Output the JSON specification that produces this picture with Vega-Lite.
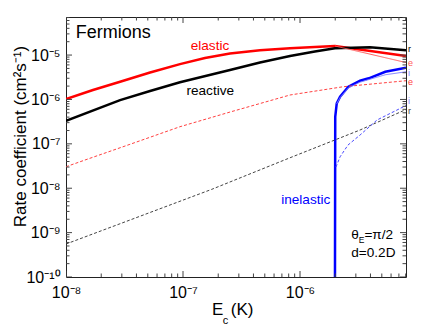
{
  "$schema": "https://vega.github.io/schema/vega-lite/v6.json",
  "width": 340,
  "height": 260,
  "autosize": {"type": "none"},
  "padding": {"left": 66, "top": 17, "right": 17, "bottom": 50},
  "background": "white",
  "config": {
    "view": {"stroke": "#222222", "strokeWidth": 1},
    "font": "Liberation Sans",
    "text": {"font": "Liberation Sans"},
    "tick": {"thickness": 1, "color": "#444444", "opacity": 1},
    "axis": {
      "grid": false,
      "domain": false,
      "ticks": false,
      "labelFont": "Liberation Sans",
      "labelFontSize": 16,
      "labelColor": "#000000",
      "labelOverlap": false,
      "labelFlush": false,
      "labelBound": false,
      "titleFont": "Liberation Sans",
      "titleColor": "#000000",
      "titleFontWeight": "normal"
    }
  },
  "datasets": {
    "lines": [
      {"s": "elastic", "x": 1e-8, "y": 1.02e-6},
      {"s": "elastic", "x": 1.70e-8, "y": 1.63e-6},
      {"s": "elastic", "x": 2.90e-8, "y": 2.51e-6},
      {"s": "elastic", "x": 5.23e-8, "y": 4.04e-6},
      {"s": "elastic", "x": 9.42e-8, "y": 6.26e-6},
      {"s": "elastic", "x": 1.54e-7, "y": 8.55e-6},
      {"s": "elastic", "x": 2.52e-7, "y": 1.08e-5},
      {"s": "elastic", "x": 4.55e-7, "y": 1.28e-5},
      {"s": "elastic", "x": 8.22e-7, "y": 1.42e-5},
      {"s": "elastic", "x": 1.34e-6, "y": 1.51e-5},
      {"s": "elastic", "x": 1.99e-6, "y": 1.60e-5},
      {"s": "elastic", "x": 8.05e-6, "y": 9.5e-6},
      {"s": "reactive", "x": 1e-8, "y": 3.31e-7},
      {"s": "reactive", "x": 2.90e-8, "y": 9.68e-7},
      {"s": "reactive", "x": 5.23e-8, "y": 1.55e-6},
      {"s": "reactive", "x": 9.42e-8, "y": 2.43e-6},
      {"s": "reactive", "x": 2.52e-7, "y": 4.59e-6},
      {"s": "reactive", "x": 4.55e-7, "y": 6.78e-6},
      {"s": "reactive", "x": 8.22e-7, "y": 9.48e-6},
      {"s": "reactive", "x": 1.34e-6, "y": 1.20e-5},
      {"s": "reactive", "x": 1.99e-6, "y": 1.42e-5},
      {"s": "reactive", "x": 3.96e-6, "y": 1.49e-5},
      {"s": "reactive", "x": 8.05e-6, "y": 1.28e-5},
      {"s": "elastic_thin", "x": 1.99e-6, "y": 1.60e-5},
      {"s": "elastic_thin", "x": 3.96e-6, "y": 1.05e-5},
      {"s": "elastic_thin", "x": 8.05e-6, "y": 6.78e-6},
      {"s": "elastic_dash", "x": 1e-8, "y": 3.05e-8},
      {"s": "elastic_dash", "x": 1.45e-8, "y": 4.31e-8},
      {"s": "elastic_dash", "x": 3.52e-8, "y": 9.75e-8},
      {"s": "elastic_dash", "x": 9.42e-8, "y": 2.43e-7},
      {"s": "elastic_dash", "x": 2.52e-7, "y": 5.2e-7},
      {"s": "elastic_dash", "x": 8.22e-7, "y": 1.26e-6},
      {"s": "elastic_dash", "x": 2.33e-6, "y": 1.93e-6},
      {"s": "elastic_dash", "x": 8.05e-6, "y": 2.64e-6},
      {"s": "reactive_dash", "x": 1e-8, "y": 5.53e-10},
      {"s": "reactive_dash", "x": 1.76e-7, "y": 9.44e-9},
      {"s": "reactive_dash", "x": 8.22e-7, "y": 4.86e-8},
      {"s": "reactive_dash", "x": 3.26e-6, "y": 2.05e-7},
      {"s": "reactive_dash", "x": 8.05e-6, "y": 5.93e-7},
      {"s": "inelastic", "x": 1.99e-6, "y": 1e-10},
      {"s": "inelastic", "x": 2.0e-6, "y": 4.07e-7},
      {"s": "inelastic", "x": 2.06e-6, "y": 8.17e-7},
      {"s": "inelastic", "x": 2.20e-6, "y": 1.15e-6},
      {"s": "inelastic", "x": 2.59e-6, "y": 1.93e-6},
      {"s": "inelastic", "x": 3.26e-6, "y": 2.64e-6},
      {"s": "inelastic", "x": 3.87e-6, "y": 2.99e-6},
      {"s": "inelastic", "x": 5.36e-6, "y": 4.2e-6},
      {"s": "inelastic", "x": 8.05e-6, "y": 5.17e-6},
      {"s": "inelastic_thin", "x": 2.06e-6, "y": 8.0e-7},
      {"s": "inelastic_thin", "x": 2.20e-6, "y": 1.1e-6},
      {"s": "inelastic_thin", "x": 2.59e-6, "y": 1.82e-6},
      {"s": "inelastic_thin", "x": 3.26e-6, "y": 2.45e-6},
      {"s": "inelastic_thin", "x": 3.87e-6, "y": 2.8e-6},
      {"s": "inelastic_thin", "x": 5.36e-6, "y": 3.6e-6},
      {"s": "inelastic_thin", "x": 8.05e-6, "y": 4.2e-6},
      {"s": "inelastic_dash", "x": 2.03e-6, "y": 3.0e-8},
      {"s": "inelastic_dash", "x": 2.2e-6, "y": 5.1e-8},
      {"s": "inelastic_dash", "x": 2.57e-6, "y": 9.4e-8},
      {"s": "inelastic_dash", "x": 3.26e-6, "y": 1.58e-7},
      {"s": "inelastic_dash", "x": 4.55e-6, "y": 3.44e-7},
      {"s": "inelastic_dash", "x": 8.05e-6, "y": 7.3e-7}
    ],
    "xticks": [
      {"v": 1e-8, "k": "major"}, {"v": 2e-8, "k": "minor"}, {"v": 3e-8, "k": "minor"}, {"v": 4e-8, "k": "minor"}, {"v": 5e-8, "k": "minor"}, {"v": 6e-8, "k": "minor"}, {"v": 7e-8, "k": "minor"}, {"v": 8e-8, "k": "minor"}, {"v": 9e-8, "k": "minor"},
      {"v": 1e-7, "k": "major"}, {"v": 2e-7, "k": "minor"}, {"v": 3e-7, "k": "minor"}, {"v": 4e-7, "k": "minor"}, {"v": 5e-7, "k": "minor"}, {"v": 6e-7, "k": "minor"}, {"v": 7e-7, "k": "minor"}, {"v": 8e-7, "k": "minor"}, {"v": 9e-7, "k": "minor"},
      {"v": 1e-6, "k": "major"}, {"v": 2e-6, "k": "minor"}, {"v": 3e-6, "k": "minor"}, {"v": 4e-6, "k": "minor"}, {"v": 5e-6, "k": "minor"}, {"v": 6e-6, "k": "minor"}, {"v": 7e-6, "k": "minor"}, {"v": 8e-6, "k": "minor"}
    ],
    "yticks": [
      {"v": 1e-10, "k": "major"}, {"v": 2e-10, "k": "minor"}, {"v": 3e-10, "k": "minor"}, {"v": 4e-10, "k": "minor"}, {"v": 5e-10, "k": "minor"}, {"v": 6e-10, "k": "minor"}, {"v": 7e-10, "k": "minor"}, {"v": 8e-10, "k": "minor"}, {"v": 9e-10, "k": "minor"},
      {"v": 1e-9, "k": "major"}, {"v": 2e-9, "k": "minor"}, {"v": 3e-9, "k": "minor"}, {"v": 4e-9, "k": "minor"}, {"v": 5e-9, "k": "minor"}, {"v": 6e-9, "k": "minor"}, {"v": 7e-9, "k": "minor"}, {"v": 8e-9, "k": "minor"}, {"v": 9e-9, "k": "minor"},
      {"v": 1e-8, "k": "major"}, {"v": 2e-8, "k": "minor"}, {"v": 3e-8, "k": "minor"}, {"v": 4e-8, "k": "minor"}, {"v": 5e-8, "k": "minor"}, {"v": 6e-8, "k": "minor"}, {"v": 7e-8, "k": "minor"}, {"v": 8e-8, "k": "minor"}, {"v": 9e-8, "k": "minor"},
      {"v": 1e-7, "k": "major"}, {"v": 2e-7, "k": "minor"}, {"v": 3e-7, "k": "minor"}, {"v": 4e-7, "k": "minor"}, {"v": 5e-7, "k": "minor"}, {"v": 6e-7, "k": "minor"}, {"v": 7e-7, "k": "minor"}, {"v": 8e-7, "k": "minor"}, {"v": 9e-7, "k": "minor"},
      {"v": 1e-6, "k": "major"}, {"v": 2e-6, "k": "minor"}, {"v": 3e-6, "k": "minor"}, {"v": 4e-6, "k": "minor"}, {"v": 5e-6, "k": "minor"}, {"v": 6e-6, "k": "minor"}, {"v": 7e-6, "k": "minor"}, {"v": 8e-6, "k": "minor"}, {"v": 9e-6, "k": "minor"},
      {"v": 1e-5, "k": "major"}, {"v": 2e-5, "k": "minor"}, {"v": 3e-5, "k": "minor"}, {"v": 4e-5, "k": "minor"}, {"v": 5e-5, "k": "minor"}, {"v": 6e-5, "k": "minor"}, {"v": 7e-5, "k": "minor"}
    ],
    "endlabels": [
      {"t": "r", "s": "reactive", "x": 8.05e-6, "y": 1.34e-5},
      {"t": "e", "s": "elastic_thin", "x": 8.05e-6, "y": 6.75e-6},
      {"t": "i", "s": "inelastic_thin", "x": 8.05e-6, "y": 4.0e-6},
      {"t": "e", "s": "elastic_dash", "x": 8.05e-6, "y": 2.5e-6},
      {"t": "i", "s": "inelastic_thin", "x": 8.05e-6, "y": 9.2e-7},
      {"t": "r", "s": "reactive_dash", "x": 8.05e-6, "y": 5.6e-7}
    ],
    "curvelabels": [
      {"t": "elastic", "s": "elastic", "x": 1.70e-7, "y": 1.30e-5},
      {"t": "reactive", "s": "reactive", "x": 1.71e-7, "y": 1.26e-6},
      {"t": "inelastic", "s": "inelastic", "x": 1.12e-6, "y": 4.33e-9}
    ],
    "notes": [
      {"t": "θ", "x": 2.74e-6, "y": 7.06e-10},
      {"t": "=π/2", "x": 3.55e-6, "y": 7.06e-10},
      {"t": "d=0.2D", "x": 2.74e-6, "y": 2.78e-10}
    ],
    "notesub": [
      {"t": "E", "x": 3.17e-6, "y": 5.83e-10}
    ],
    "heading": [
      {"t": "Fermions", "x": 1.21e-8, "y": 2.38e-5}
    ],
    "xtitle": [
      {"t": "E", "x": 1.77e-7, "y": 1e-10},
      {"t": "(K)", "x": 2.56e-7, "y": 1e-10}
    ],
    "xtitlesub": [
      {"t": "c", "x": 2.19e-7, "y": 1e-10}
    ]
  },
  "resolve": {"axis": {"x": "independent", "y": "independent"}},
  "layer": [
    {
      "data": {"name": "lines"},
      "transform": [{"filter": "datum.s == 'elastic' || datum.s == 'reactive' || datum.s == 'inelastic'"}],
      "mark": {"type": "line", "interpolate": "linear", "clip": true, "strokeWidth": 2.5},
      "encoding": {
        "x": {
          "field": "x", "type": "quantitative",
          "scale": {"type": "log", "domain": [1e-8, 8.05e-6], "nice": false},
          "axis": {
            "orient": "bottom", "title": null,
            "values": [1e-8, 1e-7, 1e-6],
            "labelPadding": 7,
            "labelExpr": "round(log(datum.value)/LN10)==-8 ? '10⁻⁸' : round(log(datum.value)/LN10)==-7 ? '10⁻⁷' : '10⁻⁶'"
          }
        },
        "y": {
          "field": "y", "type": "quantitative",
          "scale": {"type": "log", "domain": [1e-10, 7.2e-5], "nice": false},
          "axis": {
            "orient": "left",
            "values": [1e-10, 1e-9, 1e-8, 1e-7, 1e-6, 1e-5],
            "labelPadding": 6,
            "labelExpr": "round(log(datum.value)/LN10)==-10 ? '10⁻¹⁰' : round(log(datum.value)/LN10)==-9 ? '10⁻⁹' : round(log(datum.value)/LN10)==-8 ? '10⁻⁸' : round(log(datum.value)/LN10)==-7 ? '10⁻⁷' : round(log(datum.value)/LN10)==-6 ? '10⁻⁶' : '10⁻⁵'",
            "title": "Rate coefficient (cm²s⁻¹)",
            "titleFontSize": 17,
            "titleAngle": 270,
            "titleAlign": "center",
            "titleBaseline": "alphabetic",
            "titleX": -41,
            "titleY": 119
          }
        },
        "color": {
          "field": "s", "type": "nominal", "legend": null,
          "scale": {
            "domain": ["elastic", "reactive", "inelastic", "elastic_thin", "elastic_dash", "reactive_dash", "inelastic_thin", "inelastic_dash"],
            "range": ["#ff0000", "#000000", "#0000ff", "#ff5a5a", "#ff4040", "#444444", "#8080ff", "#4a4aff"]
          }
        }
      }
    },
    {
      "data": {"name": "lines"},
      "transform": [{"filter": "datum.s != 'elastic' && datum.s != 'reactive' && datum.s != 'inelastic'"}],
      "mark": {"type": "line", "interpolate": "linear", "clip": true, "strokeWidth": 1},
      "encoding": {
        "x": {"field": "x", "type": "quantitative", "axis": null},
        "y": {"field": "y", "type": "quantitative", "axis": null},
        "color": {"field": "s", "type": "nominal", "legend": null},
        "strokeDash": {
          "field": "s", "type": "nominal", "legend": null,
          "scale": {
            "domain": ["elastic_thin", "elastic_dash", "reactive_dash", "inelastic_thin", "inelastic_dash"],
            "range": [[1, 0], [3, 2], [3, 2], [1, 0], [3, 2]]
          }
        }
      }
    },
    {
      "data": {"name": "endlabels"},
      "mark": {"type": "text", "align": "left", "baseline": "middle", "dx": 2, "fontSize": 9},
      "encoding": {
        "x": {"field": "x", "type": "quantitative", "axis": null},
        "y": {"field": "y", "type": "quantitative", "axis": null},
        "text": {"field": "t"},
        "color": {"field": "s", "type": "nominal", "legend": null}
      }
    },
    {
      "data": {"name": "curvelabels"},
      "mark": {"type": "text", "align": "center", "baseline": "alphabetic", "fontSize": 13.6},
      "encoding": {
        "x": {"field": "x", "type": "quantitative", "axis": null},
        "y": {"field": "y", "type": "quantitative", "axis": null},
        "text": {"field": "t"},
        "color": {"field": "s", "type": "nominal", "legend": null}
      }
    },
    {
      "data": {"name": "notes"},
      "mark": {"type": "text", "align": "left", "baseline": "alphabetic", "fontSize": 13.6, "color": "#000000"},
      "encoding": {
        "x": {"field": "x", "type": "quantitative", "axis": null},
        "y": {"field": "y", "type": "quantitative", "axis": null},
        "text": {"field": "t"}
      }
    },
    {
      "data": {"name": "notesub"},
      "mark": {"type": "text", "align": "left", "baseline": "alphabetic", "fontSize": 8.5, "color": "#000000"},
      "encoding": {
        "x": {"field": "x", "type": "quantitative", "axis": null},
        "y": {"field": "y", "type": "quantitative", "axis": null},
        "text": {"field": "t"}
      }
    },
    {
      "data": {"name": "heading"},
      "mark": {"type": "text", "align": "left", "baseline": "alphabetic", "fontSize": 18, "color": "#000000"},
      "encoding": {
        "x": {"field": "x", "type": "quantitative", "axis": null},
        "y": {"field": "y", "type": "quantitative", "axis": null},
        "text": {"field": "t"}
      }
    },
    {
      "data": {"name": "xtitle"},
      "mark": {"type": "text", "align": "left", "baseline": "alphabetic", "fontSize": 17, "dy": 38, "color": "#000000"},
      "encoding": {
        "x": {"field": "x", "type": "quantitative", "axis": null},
        "y": {"field": "y", "type": "quantitative", "axis": null},
        "text": {"field": "t"}
      }
    },
    {
      "data": {"name": "xtitlesub"},
      "mark": {"type": "text", "align": "left", "baseline": "alphabetic", "fontSize": 11, "dy": 47, "color": "#000000"},
      "encoding": {
        "x": {"field": "x", "type": "quantitative", "axis": null},
        "y": {"field": "y", "type": "quantitative", "axis": null},
        "text": {"field": "t"}
      }
    },
    {
      "data": {"name": "xticks"},
      "transform": [{"filter": "datum.k == 'major'"}],
      "mark": {"type": "tick", "orient": "vertical", "size": 12, "clip": true},
      "encoding": {
        "x": {"field": "v", "type": "quantitative", "axis": null},
        "y": {"datum": 1e-10, "type": "quantitative", "axis": null}
      }
    },
    {
      "data": {"name": "xticks"},
      "transform": [{"filter": "datum.k == 'major'"}],
      "mark": {"type": "tick", "orient": "vertical", "size": 12, "clip": true},
      "encoding": {
        "x": {"field": "v", "type": "quantitative", "axis": null},
        "y": {"datum": 7.2e-5, "type": "quantitative", "axis": null}
      }
    },
    {
      "data": {"name": "xticks"},
      "transform": [{"filter": "datum.k == 'minor'"}],
      "mark": {"type": "tick", "orient": "vertical", "size": 7, "clip": true},
      "encoding": {
        "x": {"field": "v", "type": "quantitative", "axis": null},
        "y": {"datum": 1e-10, "type": "quantitative", "axis": null}
      }
    },
    {
      "data": {"name": "xticks"},
      "transform": [{"filter": "datum.k == 'minor'"}],
      "mark": {"type": "tick", "orient": "vertical", "size": 7, "clip": true},
      "encoding": {
        "x": {"field": "v", "type": "quantitative", "axis": null},
        "y": {"datum": 7.2e-5, "type": "quantitative", "axis": null}
      }
    },
    {
      "data": {"name": "yticks"},
      "transform": [{"filter": "datum.k == 'major'"}],
      "mark": {"type": "tick", "orient": "horizontal", "size": 12, "clip": true},
      "encoding": {
        "y": {"field": "v", "type": "quantitative", "axis": null},
        "x": {"datum": 1e-8, "type": "quantitative", "axis": null}
      }
    },
    {
      "data": {"name": "yticks"},
      "transform": [{"filter": "datum.k == 'major'"}],
      "mark": {"type": "tick", "orient": "horizontal", "size": 12, "clip": true},
      "encoding": {
        "y": {"field": "v", "type": "quantitative", "axis": null},
        "x": {"datum": 8.05e-6, "type": "quantitative", "axis": null}
      }
    },
    {
      "data": {"name": "yticks"},
      "transform": [{"filter": "datum.k == 'minor'"}],
      "mark": {"type": "tick", "orient": "horizontal", "size": 7, "clip": true},
      "encoding": {
        "y": {"field": "v", "type": "quantitative", "axis": null},
        "x": {"datum": 1e-8, "type": "quantitative", "axis": null}
      }
    },
    {
      "data": {"name": "yticks"},
      "transform": [{"filter": "datum.k == 'minor'"}],
      "mark": {"type": "tick", "orient": "horizontal", "size": 7, "clip": true},
      "encoding": {
        "y": {"field": "v", "type": "quantitative", "axis": null},
        "x": {"datum": 8.05e-6, "type": "quantitative", "axis": null}
      }
    }
  ]
}
